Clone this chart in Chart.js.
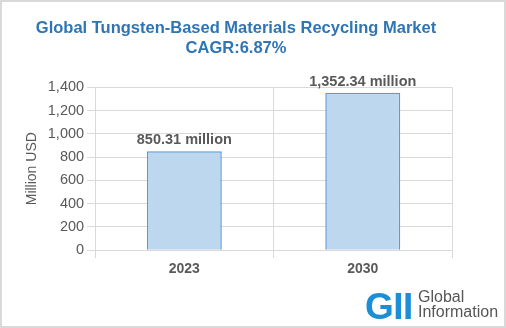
<!DOCTYPE html>
<html>
<head>
<meta charset="utf-8">
<script src="https://cdn.jsdelivr.net/npm/chart.js@4.4.0/dist/chart.umd.min.js"></script>
<style>
  html, body { margin: 0; padding: 0; background: #fff; }
  #wrap { position: relative; width: 506px; height: 328px; box-sizing: border-box; border: 2px solid #d9d9d9; }
  #chart { position: absolute; left: 0; top: 0; }
  .logo { position: absolute; font-family: "Liberation Sans", Arial, sans-serif; }
  .gii { left: 363px; top: 284px; font-size: 37px; font-weight: bold; color: #1b8ed6; letter-spacing: -0.5px; }
  .gtxt { left: 416px; top: 287px; font-size: 16px; line-height: 15px; color: #555; }
</style>
</head>
<body>
<div id="wrap">
  <canvas id="chart" width="502" height="324"></canvas>
  <div class="logo gii">GII</div>
  <div class="logo gtxt">Global<br>Information</div>
</div>
<script>
var years = ['2023', '2030'];
var marketSize = [850.31, 1352.34];
var valueLabels = ['850.31 million', '1,352.34 million'];

var labelPlugin = {
    id: 'barLabels',
    afterDatasetsDraw: function (chart) {
        var ctx = chart.ctx;
        var meta = chart.getDatasetMeta(0);
        ctx.save();
        ctx.font = 'bold 14.5px "Liberation Sans", Arial, sans-serif';
        ctx.fillStyle = '#595959';
        ctx.textAlign = 'center';
        ctx.textBaseline = 'bottom';
        meta.data.forEach(function (bar, i) {
            ctx.fillText(valueLabels[i], bar.x, bar.y - 4);
        });
        ctx.restore();
    }
};

document.addEventListener('DOMContentLoaded', function () {
    var ctx = document.getElementById('chart').getContext('2d');
    new Chart(ctx, {
        type: 'bar',
        data: {
            labels: years,
            datasets: [{
                data: marketSize,
                backgroundColor: '#bdd7ee',
                borderColor: '#5b9bd5',
                borderWidth: 1.5,
                barPercentage: 0.42,
                categoryPercentage: 1
            }]
        },
        options: {
            responsive: false,
            animation: false,
            layout: { padding: { left: 18, right: 52, top: 6, bottom: 45 } },
            plugins: {
                legend: { display: false },
                tooltip: { enabled: false },
                title: {
                    display: true,
                    text: ['Global Tungsten-Based Materials Recycling Market', 'CAGR:6.87%'],
                    color: '#2e75b6',
                    font: { family: '"Liberation Sans", Arial, sans-serif', size: 16.5, weight: 'bold', lineHeight: 1.25 },
                    padding: { top: 10, bottom: 28 }
                }
            },
            scales: {
                x: {
                    grid: { color: '#d9d9d9', offset: true },
                    border: { color: '#d9d9d9' },
                    ticks: {
                        color: '#595959',
                        font: { family: '"Liberation Sans", Arial, sans-serif', size: 14, weight: 'bold' }
                    }
                },
                y: {
                    min: 0,
                    max: 1400,
                    ticks: {
                        stepSize: 200,
                        color: '#595959',
                        font: { family: '"Liberation Sans", Arial, sans-serif', size: 14.5 },
                        callback: function (v) { return v.toLocaleString('en-US'); }
                    },
                    grid: { color: '#d9d9d9' },
                    border: { color: '#d9d9d9' },
                    title: {
                        display: true,
                        text: 'Million USD',
                        color: '#595959',
                        font: { family: '"Liberation Sans", Arial, sans-serif', size: 14 }
                    }
                }
            }
        },
        plugins: [labelPlugin]
    });
});
</script>
</body>
</html>
